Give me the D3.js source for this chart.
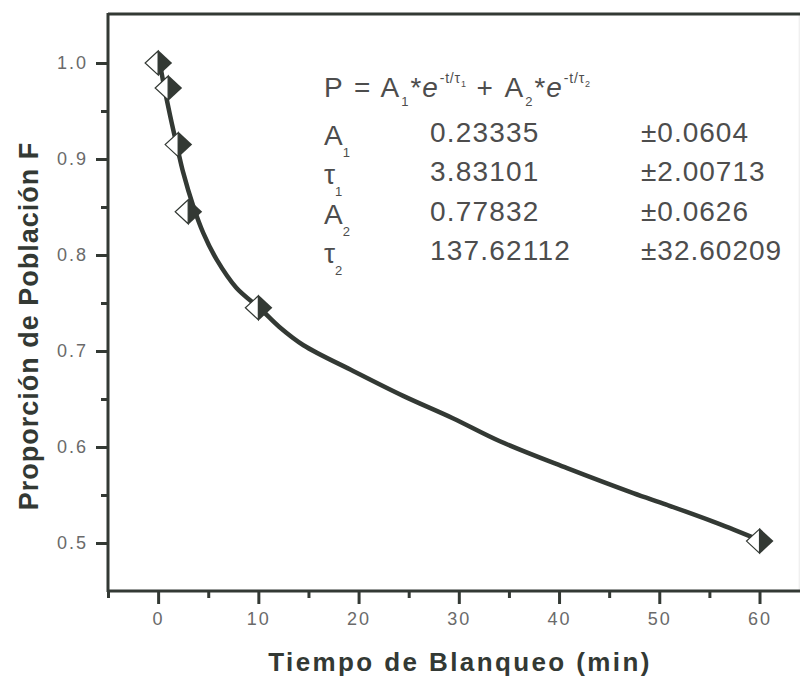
<!DOCTYPE html>
<html>
<head>
<meta charset="utf-8">
<script src="https://cdn.jsdelivr.net/npm/d3@7"></script>
<style>
  body { margin: 0; background: #fff; }
  text { font-family: "Liberation Sans", Arial, sans-serif; }
</style>
</head>
<body>
<svg id="chart" width="800" height="677"></svg>
<script>
// DATA:
var times = [0, 1, 2, 3, 10, 60];
var proportions = [1.0, 0.974, 0.915, 0.845, 0.745, 0.502];

// fitted curve, sampled by eye along the drawn line
var curveTimes = [0, 0.5, 1.2, 2.0, 2.5, 3.5, 4.5, 5.8, 7.8, 10.2, 12.1, 14.5, 19.5, 24.5, 29.4, 34.1, 40.8, 47.4, 50.7, 55.7, 60];
var curveValues = [1.01, 0.981, 0.945, 0.908, 0.886, 0.851, 0.823, 0.796, 0.766, 0.744, 0.725, 0.706, 0.679, 0.653, 0.630, 0.606, 0.578, 0.552, 0.540, 0.521, 0.503];

var xMajorTicks = [0, 10, 20, 30, 40, 50, 60];
var xMinorTicks = [-5, 5, 15, 25, 35, 45, 55];
var yMajorTicks = [0.5, 0.6, 0.7, 0.8, 0.9, 1.0];
var yMinorTicks = [0.55, 0.65, 0.75, 0.85, 0.95];

var paramNames = ["A", "τ", "A", "τ"];
var paramSubs = ["1", "1", "2", "2"];
var paramValues = ["0.23335", "3.83101", "0.77832", "137.62112"];
var paramErrors = ["±0.0604", "±2.00713", "±0.0626", "±32.60209"];

var xTitle = "Tiempo de Blanqueo (min)";
var yTitle = "Proporción de Población F";

// DRAW CHART:
var svg = d3.select("#chart");
var ink = "#333934";

// plot box (note: can't call it "top", that's window.top)
var plotLeft = 108, plotRight = 799.6, plotTop = 15, plotBottom = 591;

var xScale = d3.scaleLinear()
    .domain([-5, 64])
    .range([plotLeft, plotRight]);

var yScale = d3.scaleLinear()
    .domain([0.45, 1.05])
    .range([plotBottom, plotTop]);

// frame (right side barely visible in the scan)
svg.append("line")
    .attr("x1", plotRight).attr("x2", plotRight)
    .attr("y1", plotTop - 1).attr("y2", plotBottom)
    .attr("stroke", "#f0f0f0").attr("stroke-width", 2);
svg.append("line")
    .attr("x1", plotLeft).attr("x2", 800)
    .attr("y1", plotTop - 1).attr("y2", plotTop - 1)
    .attr("stroke", ink).attr("stroke-width", 3);

// Axes:
function styleAxis(g) {
    g.select(".domain").remove();
    g.selectAll("line").attr("stroke", ink).attr("stroke-width", 3);
    g.selectAll("text")
        .attr("fill", "#6a6a6a")
        .style("font-size", "18px")
        .style("letter-spacing", "2px");
}

svg.append("g")
    .attr("transform", "translate(0," + plotBottom + ")")
    .call(d3.axisBottom(xScale).tickValues(xMinorTicks).tickSize(7).tickFormat(""))
    .call(styleAxis);

svg.append("g")
    .attr("transform", "translate(0," + plotBottom + ")")
    .call(d3.axisBottom(xScale).tickValues(xMajorTicks).tickSize(13).tickPadding(8).tickFormat(d3.format("d")))
    .call(styleAxis);

svg.append("g")
    .attr("transform", "translate(" + plotLeft + ",0)")
    .call(d3.axisLeft(yScale).tickValues(yMinorTicks).tickSize(7).tickFormat(""))
    .call(styleAxis);

svg.append("g")
    .attr("transform", "translate(" + plotLeft + ",0)")
    .call(d3.axisLeft(yScale).tickValues(yMajorTicks).tickSize(12).tickPadding(8).tickFormat(d3.format(".1f")))
    .call(styleAxis);

// axis lines
svg.append("line")
    .attr("x1", plotLeft).attr("x2", 800)
    .attr("y1", plotBottom).attr("y2", plotBottom)
    .attr("stroke", ink).attr("stroke-width", 3);
svg.append("line")
    .attr("x1", plotLeft).attr("x2", plotLeft)
    .attr("y1", plotTop - 2).attr("y2", plotBottom + 1)
    .attr("stroke", ink).attr("stroke-width", 3);

// Fit curve:
var line = d3.line()
    .x(function (d, i) { return xScale(curveTimes[i]); })
    .y(function (d) { return yScale(d); })
    .curve(d3.curveCatmullRom.alpha(0.5));

svg.append("path")
    .datum(curveValues)
    .attr("fill", "none")
    .attr("stroke", ink)
    .attr("stroke-width", 4.5)
    .attr("stroke-linejoin", "round")
    .attr("d", line);

// Half filled diamonds: open left half, solid right half
var hw = 13, hh = 12;
var markers = svg.selectAll(".marker")
    .data(times)
    .enter()
    .append("g")
    .attr("class", "marker")
    .attr("transform", function (d, i) {
        return "translate(" + xScale(d) + "," + yScale(proportions[i]) + ")";
    });

markers.append("path")
    .attr("d", "M0," + (-hh) + "L" + (-hw) + ",0L0," + hh + "Z")
    .attr("fill", "#fff")
    .attr("stroke", ink)
    .attr("stroke-width", 1.2);

markers.append("path")
    .attr("d", "M0," + (-hh - 1) + "L" + (hw + 1) + ",0L0," + (hh + 1) + "Z")
    .attr("fill", ink);

// Axis titles:
svg.append("text")
    .attr("x", 460)
    .attr("y", 671)
    .attr("text-anchor", "middle")
    .attr("fill", ink)
    .style("font-size", "26px")
    .style("font-weight", "bold")
    .style("letter-spacing", "2.4px")
    .text(xTitle);

svg.append("text")
    .attr("transform", "translate(38,326) rotate(-90)")
    .attr("text-anchor", "middle")
    .attr("fill", ink)
    .style("font-size", "27px")
    .style("font-weight", "bold")
    .style("letter-spacing", "1px")
    .text(yTitle);

// Fit equation with sub and superscripts:
var eqParts = [
    ["P = A", 28, 0], ["1", 13, 9], ["*e", 28, 0], ["-t/τ", 14, -14], ["1", 9, -10],
    [" + A", 28, 0], ["2", 13, 9], ["*e", 28, 0], ["-t/τ", 14, -14], ["2", 9, -10]
];
var textInk = "#4d4d4d";
var eq = svg.append("text")
    .attr("x", 324)
    .attr("y", 97)
    .attr("fill", textInk);
var shift = 0;
eqParts.forEach(function (p) {
    eq.append("tspan")
        .attr("dy", p[2] - shift)
        .style("font-size", p[1] + "px")
        .style("letter-spacing", p[1] > 20 ? "2px" : "0.8px")
        .style("font-style", p[0] == "*e" ? "italic" : "normal")
        .text(p[0]);
    shift = p[2];
});

var rowY = [142, 181, 221, 260];
paramNames.forEach(function (name, i) {
    var t = svg.append("text")
        .attr("x", 324)
        .attr("y", rowY[i] + 3)
        .attr("fill", textInk)
        .style("font-size", "28px");
    t.append("tspan").text(name);
    t.append("tspan").attr("dy", 12).style("font-size", "13px").text(paramSubs[i]);

    svg.append("text")
        .attr("x", 430)
        .attr("y", rowY[i])
        .attr("fill", textInk)
        .style("font-size", "28px")
        .style("letter-spacing", "1.2px")
        .text(paramValues[i]);

    svg.append("text")
        .attr("x", 641)
        .attr("y", rowY[i])
        .attr("fill", textInk)
        .style("font-size", "28px")
        .style("letter-spacing", "1px")
        .text(paramErrors[i]);
});
</script>
</body>
</html>
